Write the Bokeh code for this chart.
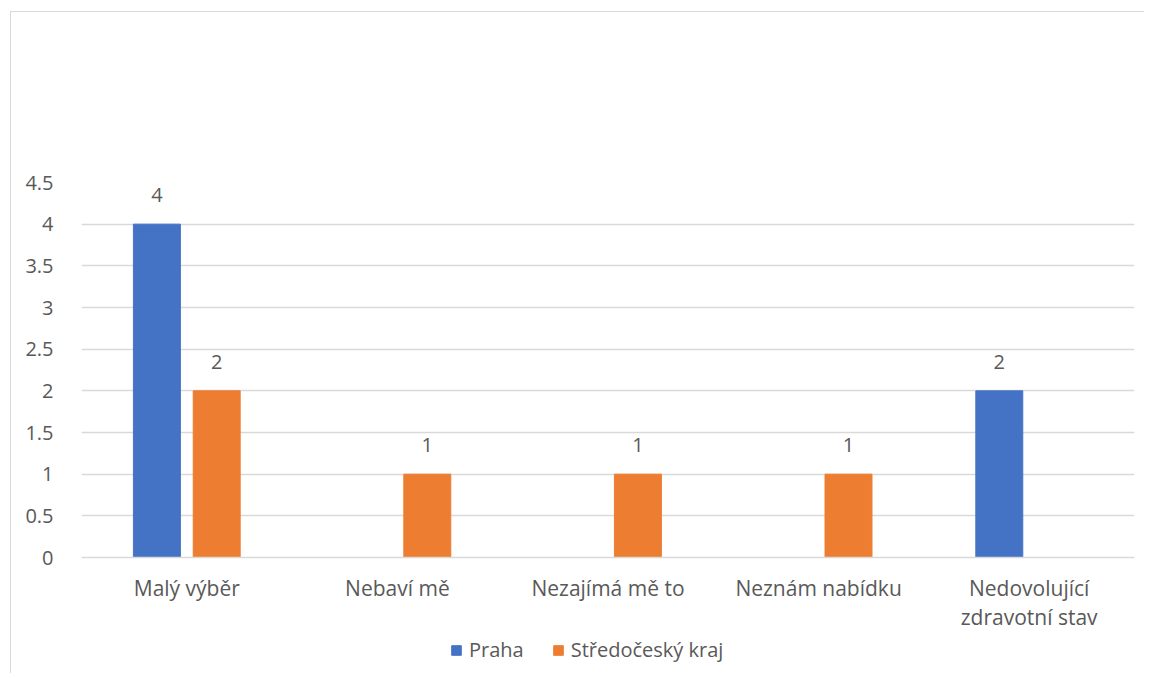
from bokeh.plotting import figure
from bokeh.layouts import column
from bokeh.models import ColumnDataSource, FactorRange, FixedTicker, LabelSet, Legend, LegendItem, Range1d
from bokeh.core.properties import value
from bokeh.transform import dodge
from bokeh.embed import file_html
from bokeh.resources import INLINE

categories = ["Malý výběr", "Nebaví mě", "Nezajímá mě to", "Neznám nabídku", "Nedovolující\nzdravotní stav"]
praha = [4, 0, 0, 0, 2]
stredocesky = [2, 1, 1, 1, 0]
series_names = ["Praha", "Středočeský kraj"]
series_colors = ["#4472C4", "#ED7D31"]
y_ticks = [0, 0.5, 1, 1.5, 2, 2.5, 3, 3.5, 4, 4.5]

FONT = "Open Sans"
FS = "20px"
TXT = "#595959"
GRID = "#d9d9d9"

src = ColumnDataSource(dict(
    cat=categories,
    praha=praha,
    stred=stredocesky,
    praha_lbl=[str(v) if v else "" for v in praha],
    stred_lbl=[str(v) if v else "" for v in stredocesky],
))

xr = FactorRange(*categories, range_padding=0)

p = figure(
    x_range=xr,
    y_range=(0, 4.5),
    width=1133, height=625,
    output_backend="svg", toolbar_location=None,
    min_border_left=70, min_border_right=10,
    min_border_top=170, min_border_bottom=80,
    margin=0,
)
p.outline_line_color = None

p.vbar(x=dodge("cat", -0.142, range=xr), top="praha", width=0.223,
       source=src, color=series_colors[0])
p.vbar(x=dodge("cat", 0.142, range=xr), top="stred", width=0.223,
       source=src, color=series_colors[1])

for ycol, lcol, off in [("praha", "praha_lbl", -0.142), ("stred", "stred_lbl", 0.142)]:
    p.add_layout(LabelSet(x=dodge("cat", off, range=xr), y=ycol, text=lcol, source=src,
                          text_align="center", text_baseline="middle", y_offset=29,
                          text_font=value(FONT), text_font_size=FS, text_color=TXT))

p.yaxis.ticker = FixedTicker(ticks=y_ticks)
p.yaxis.major_label_overrides = {t: (str(int(t)) if float(t).is_integer() else str(t)) for t in y_ticks}
p.yaxis.axis_line_color = None
p.yaxis.major_tick_line_color = None
p.yaxis.minor_tick_line_color = None
p.yaxis.major_label_standoff = 22
p.yaxis.major_label_text_font = FONT
p.yaxis.major_label_text_font_size = FS
p.yaxis.major_label_text_color = TXT

p.xaxis.axis_line_color = GRID
p.xaxis.axis_line_width = 1.5
p.xaxis.major_tick_line_color = None
p.xaxis.minor_tick_line_color = None
p.xaxis.major_label_standoff = 10
p.xaxis.major_label_text_font = FONT
p.xaxis.major_label_text_font_size = "21px"
p.xaxis.major_label_text_color = TXT
p.xaxis.major_label_text_line_height = 1.05

p.xgrid.grid_line_color = None
p.ygrid.grid_line_color = GRID
p.ygrid.grid_line_width = 1.5

# legend-only strip below the chart (same series, y range set so bars fall outside it)
lg = figure(x_range=xr, y_range=Range1d(100, 101), width=1133, height=36,
            output_backend="svg", toolbar_location=None,
            x_axis_location=None, y_axis_location=None,
            min_border=0, margin=0)
lg.outline_line_color = None
lg.xgrid.grid_line_color = None
lg.ygrid.grid_line_color = None
lr1 = lg.vbar(x=dodge("cat", -0.142, range=xr), top="praha", width=0.223,
              source=src, color=series_colors[0])
lr2 = lg.vbar(x=dodge("cat", 0.142, range=xr), top="stred", width=0.223,
              source=src, color=series_colors[1])
legend = Legend(items=[LegendItem(label=series_names[0], renderers=[lr1]),
                       LegendItem(label=series_names[1], renderers=[lr2])],
                orientation="horizontal", location=(369, 10),
                label_text_font=FONT, label_text_font_size=FS, label_text_color=TXT,
                glyph_width=12, glyph_height=12, spacing=28, label_standoff=7,
                border_line_color=None, background_fill_alpha=0, margin=0, padding=0)
lg.add_layout(legend, "center")

layout = column(p, lg, spacing=0,
                styles={"border-top": "1px solid #d9d9d9", "border-left": "1px solid #d9d9d9"},
                margin=(11, 0, 0, 10))

open("out.html", "w").write(file_html(layout, INLINE))
